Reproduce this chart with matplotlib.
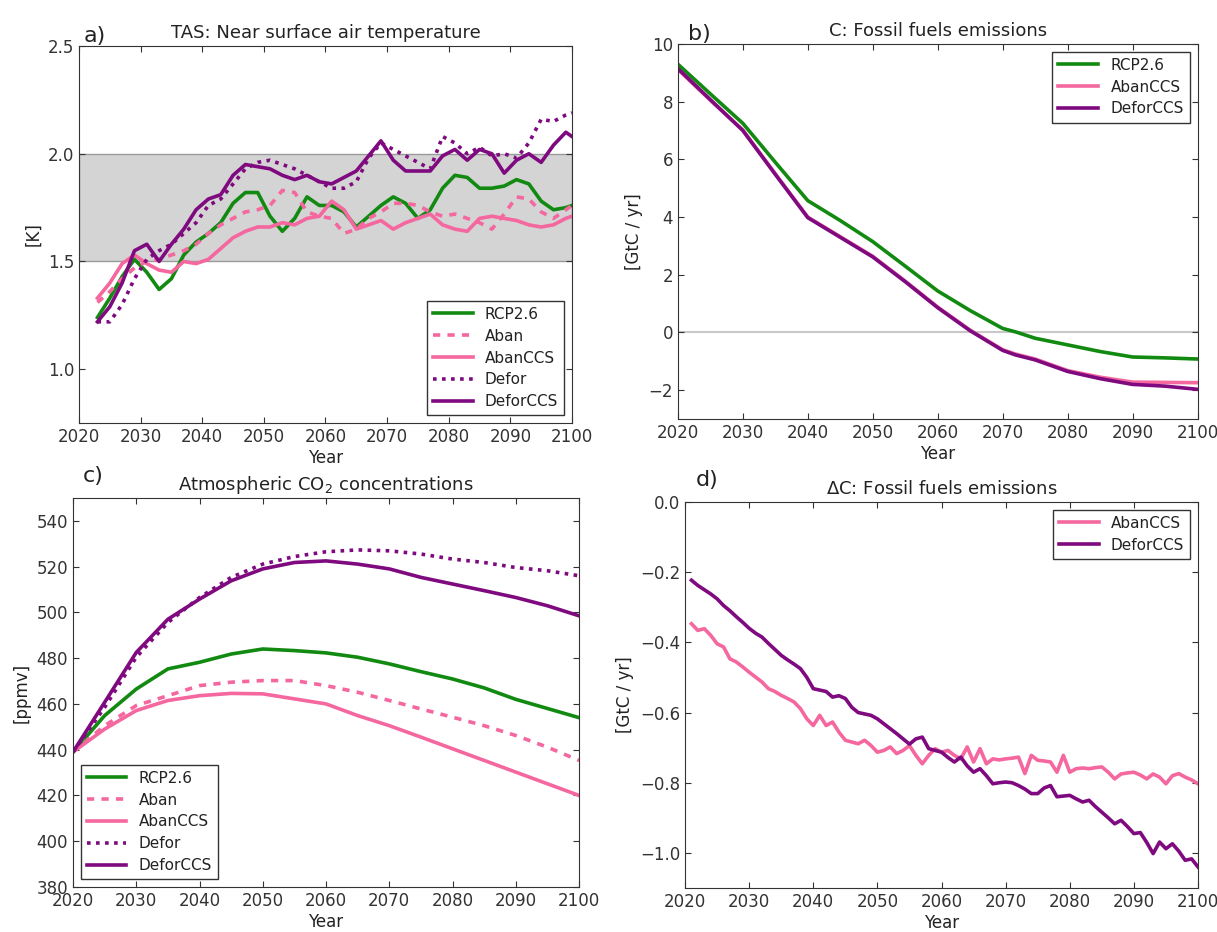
import numpy as np
import matplotlib
matplotlib.use("Agg")
import matplotlib.pyplot as plt

# ---- panel a: near surface air temperature [K] ----
yrs_a = [2023, 2025, 2027, 2029, 2031, 2033, 2035, 2037, 2039, 2041,
         2043, 2045, 2047, 2049, 2051, 2053, 2055, 2057, 2059, 2061,
         2063, 2065, 2067, 2069, 2071, 2073, 2075, 2077, 2079, 2081,
         2083, 2085, 2087, 2089, 2091, 2093, 2095, 2097, 2099, 2100]
tas_rcp = [1.24, 1.33, 1.43, 1.51, 1.45, 1.37, 1.42, 1.53, 1.59, 1.63,
           1.68, 1.77, 1.82, 1.82, 1.71, 1.64, 1.70, 1.80, 1.76, 1.76,
           1.73, 1.66, 1.71, 1.76, 1.80, 1.77, 1.70, 1.74, 1.84, 1.90,
           1.89, 1.84, 1.84, 1.85, 1.88, 1.86, 1.78, 1.74, 1.75, 1.76]
tas_aban = [1.31, 1.36, 1.42, 1.47, 1.50, 1.51, 1.53, 1.55, 1.58, 1.63,
            1.67, 1.70, 1.73, 1.74, 1.76, 1.83, 1.82, 1.73, 1.71, 1.70,
            1.63, 1.65, 1.70, 1.73, 1.77, 1.77, 1.76, 1.73, 1.71, 1.72,
            1.70, 1.68, 1.65, 1.72, 1.80, 1.79, 1.73, 1.70, 1.74, 1.76]
tas_abanccs = [1.33, 1.40, 1.49, 1.53, 1.49, 1.46, 1.45, 1.50, 1.49, 1.51,
               1.56, 1.61, 1.64, 1.66, 1.66, 1.68, 1.67, 1.70, 1.71, 1.78,
               1.74, 1.65, 1.67, 1.69, 1.65, 1.68, 1.70, 1.72, 1.67, 1.65,
               1.64, 1.70, 1.71, 1.70, 1.69, 1.67, 1.66, 1.67, 1.70, 1.71]
tas_defor = [1.22, 1.22, 1.30, 1.42, 1.51, 1.55, 1.58, 1.63, 1.68, 1.76,
             1.79, 1.86, 1.93, 1.96, 1.97, 1.95, 1.93, 1.90, 1.87, 1.84,
             1.84, 1.87, 1.98, 2.05, 2.02, 1.99, 1.96, 1.93, 2.08, 2.05,
             2.00, 2.03, 1.99, 2.00, 1.98, 2.05, 2.16, 2.15, 2.18, 2.19]
tas_deforccs = [1.22, 1.29, 1.40, 1.55, 1.58, 1.50, 1.58, 1.65, 1.74, 1.79,
                1.81, 1.90, 1.95, 1.94, 1.93, 1.90, 1.88, 1.90, 1.87, 1.86,
                1.89, 1.92, 1.99, 2.06, 1.97, 1.92, 1.92, 1.92, 1.99, 2.02,
                1.97, 2.02, 2.00, 1.91, 1.97, 2.00, 1.96, 2.04, 2.10, 2.08]

# ---- panel b: fossil fuel emissions [GtC/yr] ----
yrs_b = [2020, 2025, 2030, 2035, 2040, 2045, 2050, 2055, 2060, 2065,
         2070, 2072, 2075, 2080, 2085, 2090, 2095, 2100]
ff_rcp = [9.30, 8.27, 7.25, 5.90, 4.57, 3.88, 3.15, 2.30, 1.44, 0.76,
          0.14, 0.02, -0.20, -0.43, -0.66, -0.85, -0.88, -0.92]
ff_abanccs = [9.12, 8.05, 7.02, 5.50, 4.00, 3.32, 2.64, 1.78, 0.88, 0.08,
              -0.60, -0.75, -0.92, -1.32, -1.55, -1.72, -1.73, -1.74]
ff_deforccs = [9.15, 8.07, 7.00, 5.48, 3.98, 3.30, 2.62, 1.76, 0.86, 0.06,
               -0.62, -0.78, -0.95, -1.35, -1.60, -1.80, -1.86, -1.97]

# ---- panel c: atmospheric CO2 [ppmv] ----
yrs_c = [2020, 2025, 2030, 2035, 2040, 2045, 2050, 2055, 2060, 2065,
         2070, 2075, 2080, 2085, 2090, 2095, 2100]
co2_rcp = [439.0, 454.9, 466.5, 475.3, 478.2, 481.8, 484.0, 483.3, 482.3, 480.4,
           477.5, 474.1, 470.9, 467.0, 462.0, 458.0, 454.0]
co2_aban = [439.0, 450.5, 459.3, 463.6, 468.0, 469.5, 470.2, 470.2, 468.0, 465.1,
            461.5, 457.8, 454.2, 450.5, 446.2, 441.1, 435.3]
co2_abanccs = [439.0, 449.0, 457.1, 461.5, 463.6, 464.6, 464.4, 462.2, 460.0, 454.9,
               450.5, 445.5, 440.4, 435.3, 430.2, 425.1, 420.0]
co2_defor = [439.0, 458.5, 480.4, 495.6, 506.5, 515.3, 521.1, 524.4, 526.5, 527.3,
             526.9, 525.5, 523.3, 521.8, 519.6, 518.2, 516.0]
co2_deforccs = [439.0, 460.7, 482.5, 497.0, 505.8, 513.8, 519.0, 521.8, 522.5, 521.1,
                519.0, 515.3, 512.4, 509.5, 506.5, 502.9, 498.5]

# ---- panel d: change in fossil fuel emissions [GtC/yr] ----
yrs_d = list(range(2021, 2101))
dff_abanccs = [-0.347, -0.366, -0.361, -0.380, -0.404, -0.413, -0.447, -0.456, -0.470, -0.485,
               -0.499, -0.513, -0.532, -0.540, -0.551, -0.560, -0.570, -0.589, -0.618, -0.637,
               -0.608, -0.637, -0.627, -0.656, -0.679, -0.684, -0.689, -0.679, -0.694, -0.713,
               -0.708, -0.698, -0.717, -0.708, -0.694, -0.722, -0.746, -0.722, -0.703, -0.713,
               -0.708, -0.722, -0.732, -0.698, -0.741, -0.703, -0.746, -0.732, -0.735, -0.732,
               -0.730, -0.727, -0.774, -0.722, -0.736, -0.738, -0.741, -0.770, -0.722, -0.770,
               -0.760, -0.758, -0.760, -0.757, -0.755, -0.770, -0.789, -0.775, -0.772, -0.770,
               -0.778, -0.789, -0.775, -0.784, -0.803, -0.780, -0.774, -0.784, -0.792, -0.803]
dff_deforccs = [-0.223, -0.238, -0.250, -0.262, -0.276, -0.295, -0.310, -0.327, -0.343, -0.360,
                -0.374, -0.385, -0.403, -0.420, -0.437, -0.450, -0.462, -0.475, -0.500, -0.532,
                -0.536, -0.540, -0.556, -0.552, -0.560, -0.585, -0.600, -0.604, -0.608, -0.618,
                -0.632, -0.646, -0.660, -0.675, -0.690, -0.675, -0.670, -0.703, -0.708, -0.713,
                -0.728, -0.741, -0.727, -0.752, -0.770, -0.760, -0.780, -0.803, -0.800, -0.798,
                -0.800, -0.808, -0.818, -0.831, -0.831, -0.815, -0.808, -0.840, -0.838, -0.836,
                -0.846, -0.855, -0.850, -0.868, -0.884, -0.900, -0.917, -0.907, -0.925, -0.945,
                -0.942, -0.970, -1.002, -0.969, -0.988, -0.974, -0.995, -1.021, -1.017, -1.040]

GREEN = '#128a12'
PINK = '#f4679f'
PURPLE = '#7f0a7f'
LW = 2.6

plt.rcParams['font.family'] = 'DejaVu Sans'
plt.rcParams['xtick.direction'] = 'in'
plt.rcParams['ytick.direction'] = 'in'
plt.rcParams['xtick.top'] = True
plt.rcParams['ytick.right'] = True
plt.rcParams['xtick.major.size'] = 4
plt.rcParams['ytick.major.size'] = 4
plt.rcParams['xtick.labelsize'] = 12
plt.rcParams['ytick.labelsize'] = 12
plt.rcParams['axes.labelsize'] = 12
plt.rcParams['axes.titlesize'] = 13
plt.rcParams['axes.edgecolor'] = '#333333'
plt.rcParams['xtick.color'] = '#333333'
plt.rcParams['ytick.color'] = '#333333'
plt.rcParams['text.color'] = '#222222'
plt.rcParams['axes.labelcolor'] = '#222222'
plt.rcParams['legend.fontsize'] = 11

fig = plt.figure(figsize=(12.17, 9.32), dpi=100)
ax1 = fig.add_axes([0.0649, 0.5461, 0.4051, 0.4045])
ax2 = fig.add_axes([0.557, 0.5504, 0.427, 0.4024])
ax3 = fig.add_axes([0.060, 0.0483, 0.4158, 0.4174])
ax4 = fig.add_axes([0.5629, 0.0472, 0.4215, 0.4142])

def legend_box(ax, loc):
    leg = ax.legend(loc=loc, fancybox=False, framealpha=1, handlelength=2.6,
                    borderaxespad=0.5, labelspacing=0.45)
    leg.get_frame().set_edgecolor('#333333')
    leg.get_frame().set_linewidth(1.0)
    return leg

# a)
ax1.axhspan(1.5, 2.0, facecolor='#d4d4d4', edgecolor='#9a9a9a', lw=1.0, zorder=0)
ax1.plot(yrs_a, tas_rcp, color=GREEN, lw=LW, label='RCP2.6')
ax1.plot(yrs_a, tas_aban, color=PINK, lw=LW, dashes=(2, 2), label='Aban')
ax1.plot(yrs_a, tas_abanccs, color=PINK, lw=LW, label='AbanCCS')
ax1.plot(yrs_a, tas_defor, color=PURPLE, lw=LW, dashes=(1, 1.5), label='Defor')
ax1.plot(yrs_a, tas_deforccs, color=PURPLE, lw=LW, label='DeforCCS')
ax1.set_xlim(2020, 2100)
ax1.set_ylim(0.75, 2.5)
ax1.set_yticks([1.0, 1.5, 2.0, 2.5])
ax1.set_xlabel('Year', labelpad=2)
ax1.set_ylabel('[K]')
ax1.set_title('TAS: Near surface air temperature')
ax1.text(0.01, 1.0, 'a)', transform=ax1.transAxes, fontsize=16, va='bottom')
legend_box(ax1, 'lower right')

# b)
ax2.axhline(0, color='#c8c8c8', lw=1.5, zorder=0)
ax2.plot(yrs_b, ff_rcp, color=GREEN, lw=LW, label='RCP2.6')
ax2.plot(yrs_b, ff_abanccs, color=PINK, lw=LW, label='AbanCCS')
ax2.plot(yrs_b, ff_deforccs, color=PURPLE, lw=LW, label='DeforCCS')
ax2.set_xlim(2020, 2100)
ax2.set_ylim(-3, 10)
ax2.set_yticks([-2, 0, 2, 4, 6, 8, 10])
ax2.set_xlabel('Year', labelpad=2)
ax2.set_ylabel('[GtC / yr]')
ax2.set_title('C: Fossil fuels emissions')
ax2.text(0.02, 1.0, 'b)', transform=ax2.transAxes, fontsize=16, va='bottom')
legend_box(ax2, 'upper right')

# c)
ax3.plot(yrs_c, co2_rcp, color=GREEN, lw=LW, label='RCP2.6')
ax3.plot(yrs_c, co2_aban, color=PINK, lw=LW, dashes=(2, 2), label='Aban')
ax3.plot(yrs_c, co2_abanccs, color=PINK, lw=LW, label='AbanCCS')
ax3.plot(yrs_c, co2_defor, color=PURPLE, lw=LW, dashes=(1, 1.5), label='Defor')
ax3.plot(yrs_c, co2_deforccs, color=PURPLE, lw=LW, label='DeforCCS')
ax3.set_xlim(2020, 2100)
ax3.set_ylim(380, 550)
ax3.set_yticks(np.arange(380, 541, 20))
ax3.set_xlabel('Year', labelpad=2)
ax3.set_ylabel('[ppmv]')
ax3.set_title('Atmospheric CO$_2$ concentrations')
ax3.text(0.02, 1.03, 'c)', transform=ax3.transAxes, fontsize=16, va='bottom')
legend_box(ax3, 'lower left')

# d)
ax4.plot(yrs_d, dff_abanccs, color=PINK, lw=LW, label='AbanCCS')
ax4.plot(yrs_d, dff_deforccs, color=PURPLE, lw=LW, label='DeforCCS')
ax4.set_xlim(2020, 2100)
ax4.set_ylim(-1.1, 0.0)
ax4.set_yticks([-1.0, -0.8, -0.6, -0.4, -0.2, 0.0])
ax4.set_xlabel('Year', labelpad=2)
ax4.set_ylabel('[GtC / yr]')
ax4.set_title('$\\Delta$C: Fossil fuels emissions')
ax4.text(0.02, 1.03, 'd)', transform=ax4.transAxes, fontsize=16, va='bottom')
legend_box(ax4, 'upper right')

for ax in (ax1, ax2, ax3, ax4):
    ax.set_xticks(np.arange(2020, 2101, 10))

fig.savefig('out.png', dpi=100)
